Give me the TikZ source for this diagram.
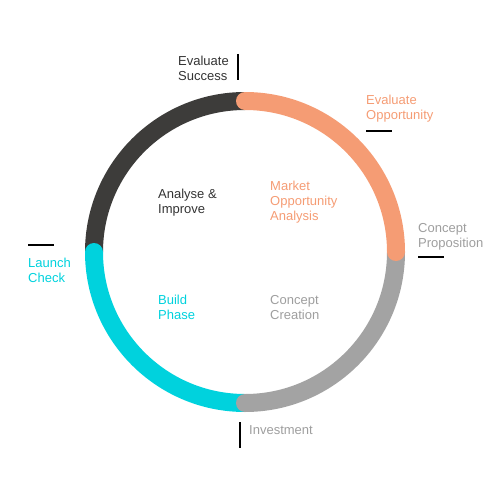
\documentclass[tikz,border=0pt]{standalone}
\usepackage{fontspec}
\setmainfont{Liberation Sans}
\begin{document}
\begin{tikzpicture}[x=1pt,y=-1pt,
  seg/.style={line width=18pt,line cap=round},
  lbl/.style={anchor=base west,inner sep=0pt,align=left,font=\fontsize{13}{15}\selectfont},
  tick/.style={line width=1.6pt,black}]
\definecolor{ringdark}{HTML}{3D3C3A}
\definecolor{ringorange}{HTML}{F59C74}
\definecolor{ringgrey}{HTML}{A3A3A3}
\definecolor{ringcyan}{HTML}{00D2DD}
\definecolor{txtdark}{HTML}{333333}
\definecolor{txtgrey}{HTML}{9E9E9E}
\useasboundingbox (0,0) rectangle (500,500);
\coordinate (c) at (245,252);
% ring segments, drawn so each later one overlaps the previous with its round end
\draw[seg,ringdark]   ([shift={(180:151)}]c) arc[start angle=180,end angle=270,radius=151];
\draw[seg,ringcyan]   ([shift={(90:151)}]c)  arc[start angle=90,end angle=180,radius=151];
\draw[seg,ringgrey]   ([shift={(0:151)}]c)   arc[start angle=0,end angle=90,radius=151];
\draw[seg,ringorange] ([shift={(-90:151)}]c) arc[start angle=-90,end angle=0,radius=151];
% outer milestone labels with their ticks (anchor sits on the last baseline)
\node[lbl,text=txtdark] (evs) at (178,81) {Evaluate\\Success};
\coordinate (evsA) at (238,54); \coordinate (evsB) at (238,80);
\draw[tick] (evsA) -- (evsB);
\node[lbl,text=ringorange] (evo) at (366,120) {Evaluate\\Opportunity};
\coordinate (evoA) at (366,131); \coordinate (evoB) at (392,131);
\draw[tick] (evoA) -- (evoB);
\node[lbl,text=txtgrey] (cpr) at (418,247) {Concept\\Proposition};
\coordinate (cprA) at (418,257); \coordinate (cprB) at (444,257);
\draw[tick] (cprA) -- (cprB);
\node[lbl,text=ringcyan] (lch) at (28,282) {Launch\\Check};
\coordinate (lchA) at (28,245); \coordinate (lchB) at (54,245);
\draw[tick] (lchA) -- (lchB);
\node[lbl,text=txtgrey] (inv) at (249,434) {Investment};
\coordinate (invA) at (240,422); \coordinate (invB) at (240,448);
\draw[tick] (invA) -- (invB);
% phase labels inside the ring
\node[lbl,text=txtdark] (ana) at (158,213) {Analyse \&\\Improve};
\node[lbl,text=ringorange] (moa) at (270,220) {Market\\Opportunity\\Analysis};
\node[lbl,text=ringcyan] (bld) at (158,319) {Build\\Phase};
\node[lbl,text=txtgrey] (ccr) at (270,319) {Concept\\Creation};
\end{tikzpicture}
\end{document}
